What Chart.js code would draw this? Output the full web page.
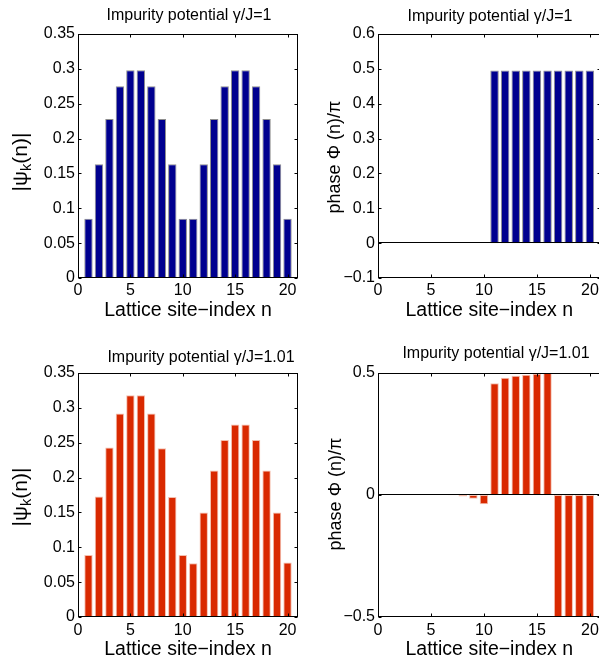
<!DOCTYPE html>
<html><head><meta charset="utf-8">
<script src="https://cdn.jsdelivr.net/npm/chart.js@4.4.1/dist/chart.umd.min.js"></script>
<style>
html,body{margin:0;padding:0;background:#fff;overflow:hidden;width:599px;height:657px;position:relative}
canvas{position:absolute}
</style></head><body>
<canvas id="tl" width="300" height="330" style="left:0;top:0"></canvas>
<canvas id="tr" width="302" height="330" style="left:300px;top:0"></canvas>
<canvas id="bl" width="300" height="340" style="left:0;top:330px"></canvas>
<canvas id="br" width="302" height="340" style="left:300px;top:330px"></canvas>
<script>
// ---------------- data ----------------
const sites = [1,2,3,4,5,6,7,8,9,10,11,12,13,14,15,16,17,18,19,20];
const ampGamma1 = [0.085,0.163,0.228,0.275,0.298,0.298,0.275,0.228,0.163,0.085,
                   0.085,0.163,0.228,0.275,0.298,0.298,0.275,0.228,0.163,0.085];
const phaseGamma1 = [0,0,0,0,0,0,0,0,0,0,
                     0.495,0.495,0.495,0.495,0.495,0.495,0.495,0.495,0.495,0.495];
const ampGamma101 = [0.089,0.173,0.243,0.292,0.318,0.318,0.292,0.242,0.172,0.089,
                     0.077,0.150,0.210,0.254,0.276,0.276,0.254,0.210,0.150,0.078];
const phaseGamma101 = [0,0,0,0,0,0,-0.001,-0.006,-0.015,-0.038,
                       0.458,0.481,0.489,0.493,0.497,0.5,-0.5,-0.5,-0.5,-0.5];
const xTicks = [0,5,10,15,20];
const yTicksAmp = [0,0.05,0.1,0.15,0.2,0.25,0.3,0.35];
const yTicksPhase1 = [-0.1,0,0.1,0.2,0.3,0.4,0.5,0.6];
const yTicksPhase101 = [-0.5,0,0.5];
const titleGamma1 = 'Impurity potential \u03B3/J=1';
const titleGamma101 = 'Impurity potential \u03B3/J=1.01';
const xLabel = 'Lattice site\u2212index n';
const yLabelAmp = [{t:'|\u03C8'},{t:'k',sub:true},{t:'(n)|'}];
const yLabelPhase = [{t:'phase \u03A6 (n)/\u03C0'}];

// ---------------- styling ----------------
const FONT = "'Liberation Sans', Arial, Helvetica, sans-serif";
const BLUE = '#00008f', BLUE_EDGE = '#8e8e8e';
const RED = '#d92900', RED_EDGE = '#f4bfae';

const matlabAxes = {
  id: 'matlabAxes',
  afterDatasetsDraw(chart, args, o) {
    const {ctx, chartArea: a} = chart;
    const x = chart.scales.x, y = chart.scales.y;
    ctx.save();
    ctx.strokeStyle = '#000';
    ctx.lineWidth = 1;
    const L = Math.round(a.left) + 0.5, R = Math.round(a.right) - 0.5;
    const T = Math.round(a.top) + 0.5, B = Math.round(a.bottom) - 0.5;
    // baseline at zero
    const y0 = Math.round(y.getPixelForValue(0)) - 0.5;
    ctx.beginPath(); ctx.moveTo(L, y0); ctx.lineTo(R, y0); ctx.stroke();
    // box
    ctx.strokeRect(L, T, R - L, B - T);
    // inward ticks
    const tl = o.tickLen;
    ctx.beginPath();
    x.ticks.forEach(t => {
      const px = Math.round(x.getPixelForValue(t.value)) + 0.5;
      ctx.moveTo(px, B); ctx.lineTo(px, B - tl);
      ctx.moveTo(px, T); ctx.lineTo(px, T + tl);
    });
    y.ticks.forEach(t => {
      const py = Math.round(y.getPixelForValue(t.value)) + 0.5;
      ctx.moveTo(L, py); ctx.lineTo(L + tl, py);
      ctx.moveTo(R, py); ctx.lineTo(R - tl, py);
    });
    ctx.stroke();
    // title
    ctx.fillStyle = '#000';
    ctx.font = o.titleSize + 'px ' + FONT;
    ctx.textAlign = 'center';
    ctx.textBaseline = 'middle';
    ctx.fillText(o.title, o.titleX, o.titleY);
    // rotated y label with optional subscript
    ctx.translate(o.yLabelX, o.yLabelY);
    ctx.rotate(-Math.PI / 2);
    ctx.textAlign = 'left';
    let total = 0;
    const parts = o.yLabel.map(p => {
      ctx.font = (p.sub ? o.yLabelSize * 0.7 : o.yLabelSize) + 'px ' + FONT;
      const w = ctx.measureText(p.t).width;
      total += w;
      return {p, w};
    });
    let cx = -total / 2;
    parts.forEach(({p, w}) => {
      ctx.font = (p.sub ? o.yLabelSize * 0.7 : o.yLabelSize) + 'px ' + FONT;
      ctx.fillText(p.t, cx, p.sub ? o.yLabelSize * 0.3 : 0);
      cx += w;
    });
    ctx.restore();
  }
};

function fmt(v) { return String(v).replace('-', '\u2212'); }

function makePanel(id, cfg) {
  const canvas = document.getElementById(id);
  const W = canvas.width, H = canvas.height;
  const xTitleLH = 19.5 * 1.2;
  new Chart(canvas, {
    type: 'bar',
    data: {
      datasets: [{
        data: sites.map((s, i) => ({x: s, y: cfg.values[i]})),
        backgroundColor: cfg.color,
        borderColor: cfg.edge,
        borderWidth: 1,
        borderSkipped: false,
        barPercentage: 0.8,
        categoryPercentage: 1.0
      }]
    },
    options: {
      responsive: false,
      animation: false,
      devicePixelRatio: 1,
      layout: {padding: {left: 0, top: cfg.area.top, right: W - cfg.area.right, bottom: 0}},
      plugins: {
        legend: {display: false},
        tooltip: {enabled: false},
        matlabAxes: {
          tickLen: 3,
          title: cfg.title, titleSize: 16, titleX: cfg.titleX, titleY: cfg.titleY,
          yLabel: cfg.yLabel, yLabelSize: cfg.yLabelSize, yLabelX: cfg.yLabelX, yLabelY: cfg.yLabelY
        }
      },
      scales: {
        x: {
          type: 'linear', min: 0, max: 21, offset: false,
          grid: {display: false, drawTicks: false, offset: false},
          border: {display: false},
          afterBuildTicks: s => { s.ticks = xTicks.map(v => ({value: v})); },
          afterFit: s => { s.height = H - cfg.area.bottom; s.paddingLeft = 0; s.paddingRight = 0; },
          ticks: {
            color: '#000', font: {family: FONT, size: 16},
            padding: cfg.xTickCenter - cfg.area.bottom - 9.6,
            maxRotation: 0, autoSkip: false, callback: v => fmt(v)
          },
          title: {
            display: true, text: xLabel, color: '#000',
            font: {family: FONT, size: 19.5},
            padding: {top: 0, bottom: H - cfg.xTitleCenter - xTitleLH / 2}
          }
        },
        y: {
          type: 'linear', min: cfg.yTicks[0], max: cfg.yTicks[cfg.yTicks.length - 1],
          grid: {display: false, drawTicks: false},
          border: {display: false},
          afterBuildTicks: s => { s.ticks = cfg.yTicks.map(v => ({value: v})); },
          afterFit: s => { s.width = cfg.area.left; s.paddingTop = 0; s.paddingBottom = 0; },
          ticks: {
            color: '#000', font: {family: FONT, size: 16},
            padding: 3, autoSkip: false, callback: v => fmt(v)
          }
        }
      }
    },
    plugins: [matlabAxes]
  });
}

makePanel('tl', {
  values: ampGamma1, color: BLUE, edge: BLUE_EDGE, yTicks: yTicksAmp,
  area: {left: 78, top: 34, right: 298, bottom: 278},
  xTickCenter: 291, xTitleCenter: 311,
  title: titleGamma1, titleX: 189, titleY: 16,
  yLabel: yLabelAmp, yLabelSize: 21, yLabelX: 21, yLabelY: 162
});
makePanel('tr', {
  values: phaseGamma1, color: BLUE, edge: BLUE_EDGE, yTicks: yTicksPhase1,
  area: {left: 78, top: 34, right: 300.5, bottom: 278},
  xTickCenter: 291, xTitleCenter: 311,
  title: titleGamma1, titleX: 190, titleY: 17,
  yLabel: yLabelPhase, yLabelSize: 18, yLabelX: 35, yLabelY: 157
});
makePanel('bl', {
  values: ampGamma101, color: RED, edge: RED_EDGE, yTicks: yTicksAmp,
  area: {left: 78, top: 43, right: 298, bottom: 287},
  xTickCenter: 301, xTitleCenter: 320,
  title: titleGamma101, titleX: 201, titleY: 28,
  yLabel: yLabelAmp, yLabelSize: 21, yLabelX: 21, yLabelY: 167
});
makePanel('br', {
  values: phaseGamma101, color: RED, edge: RED_EDGE, yTicks: yTicksPhase101,
  area: {left: 78, top: 43, right: 300.5, bottom: 287},
  xTickCenter: 301, xTitleCenter: 320,
  title: titleGamma101, titleX: 196, titleY: 24,
  yLabel: yLabelPhase, yLabelSize: 18, yLabelX: 36, yLabelY: 164
});
</script>
</body></html>
